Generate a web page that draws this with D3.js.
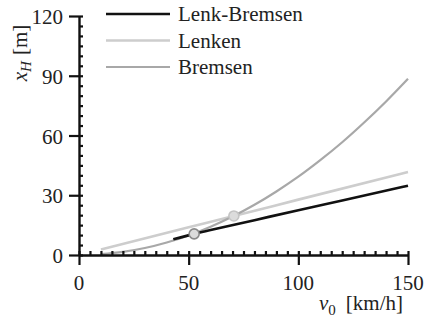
<!DOCTYPE html>
<html>
<head>
<meta charset="utf-8">
<script src="https://cdn.jsdelivr.net/npm/d3@7"></script>
</head>
<body style="margin:0">
<script>
// values
const bremsenV = [10, 20, 30, 40, 50, 60, 70, 80, 90, 100, 110, 120, 130, 140, 150];
const bremsenX = [0.4, 1.6, 3.5, 6.3, 9.8, 14.2, 19.3, 25.2, 31.9, 39.3, 47.6, 56.6, 66.5, 77.1, 88.5];

const lenkenV = [10, 50, 71, 100, 150];
const lenkenX = [2.8, 13.9, 19.7, 27.8, 41.7];

const lenkBremsenV = [43, 52.5, 60, 80, 100, 120, 150];
const lenkBremsenX = [7.9, 10.6, 12.5, 17.5, 22.5, 27.4, 34.8];

const markerV = [52.5, 70.6];
const markerX = [10.6, 19.6];

const xTicks = [0, 50, 100, 150];
const yTicks = [0, 30, 60, 90, 120];

const legendNames = ["Lenk-Bremsen", "Lenken", "Bremsen"];

const config = {
  width: 426,
  height: 322,
  left: 79,
  top: 16,
  right: 408,
  bottom: 255,
};
const serif = "Liberation Serif";

const svg = d3.select("body").append("svg")
  .attr("width", config.width)
  .attr("height", config.height)
  .attr("font-family", serif);

const x = d3.scaleLinear().domain([0, 150]).range([config.left, config.right]);
const y = d3.scaleLinear().domain([0, 120]).range([config.bottom, config.top]);

const series = [
  { name: legendNames[0], v: lenkBremsenV, xh: lenkBremsenX, color: "#111", width: 2.6 },
  { name: legendNames[1], v: lenkenV, xh: lenkenX, color: "#cdcdcd", width: 2.6 },
  { name: legendNames[2], v: bremsenV, xh: bremsenX, color: "#a8a8a8", width: 2.2 },
];

const line = d3.line()
  .x((d) => x(d[0]))
  .y((d) => y(d[1]))
  .curve(d3.curveMonotoneX);

// draw order: lenken, bremsen, lenk-bremsen on top
svg.append("g").selectAll("path")
  .data([series[1], series[2], series[0]])
  .join("path")
  .attr("d", (s) => line(s.v.map((v, i) => [v, s.xh[i]])))
  .attr("fill", "none")
  .attr("stroke", (s) => s.color)
  .attr("stroke-width", (s) => s.width);

// intersection markers
const markerStroke = ["#8a8a8a", "#c4c4c4"];
svg.append("g").selectAll("circle")
  .data(markerV.map((v, i) => [v, markerX[i]]))
  .join("circle")
  .attr("cx", (d) => x(d[0]))
  .attr("cy", (d) => y(d[1]))
  .attr("r", 5)
  .attr("fill", "#dcdcdc")
  .attr("stroke", (d, i) => markerStroke[i])
  .attr("stroke-width", 1.6);

// axes: major ticks outward (unlabelled), minor ticks inward
const y_axis_g = svg.append("g").attr("transform", `translate(${config.left},0)`);
y_axis_g.call(d3.axisLeft(y).tickValues(yTicks).tickSize(10).tickSizeOuter(0).tickFormat(""));
const y_minor_g = svg.append("g").attr("transform", `translate(${config.left},0)`);
y_minor_g.call(d3.axisRight(y).tickValues(d3.range(0, 121, 5)).tickSize(4).tickFormat(""));
y_minor_g.select(".domain").remove();

const x_axis_g = svg.append("g").attr("transform", `translate(0,${config.bottom})`);
x_axis_g.call(d3.axisBottom(x).tickValues(xTicks).tickSize(10).tickSizeOuter(0).tickFormat(""));
const x_minor_g = svg.append("g").attr("transform", `translate(0,${config.bottom})`);
x_minor_g.call(d3.axisTop(x).tickValues(d3.range(0, 151, 5)).tickSize(4).tickFormat(""));
x_minor_g.select(".domain").remove();

svg.selectAll(".domain").attr("stroke", "#111").attr("stroke-width", 2.4);
svg.selectAll(".tick line").attr("stroke", "#111").attr("stroke-width", 2.2);
svg.selectAll(".tick text").remove();

// tick labels placed by the scales
svg.append("g").selectAll("text")
  .data(yTicks)
  .join("text")
  .attr("x", config.left - 16)
  .attr("y", (d) => y(d) + 8)
  .attr("text-anchor", "end")
  .attr("font-size", 21)
  .attr("fill", "#222")
  .attr("font-family", serif)
  .style("font-family", serif)
  .text((d) => d);

svg.append("g").selectAll("text")
  .data(xTicks)
  .join("text")
  .attr("x", (d) => x(d))
  .attr("y", config.bottom + 35)
  .attr("text-anchor", "middle")
  .attr("font-size", 21)
  .attr("fill", "#222")
  .attr("font-family", serif)
  .style("font-family", serif)
  .text((d) => d);

// axis titles
const xt = svg.append("text")
  .attr("x", 403)
  .attr("y", 310)
  .attr("text-anchor", "end")
  .attr("fill", "#222")
  .attr("font-size", 21)
  .attr("font-family", serif)
  .style("font-family", serif);
xt.append("tspan").style("font-style", "italic").text("v");
xt.append("tspan").attr("font-size", 15).attr("dy", 5).text("0");
xt.append("tspan").attr("dy", -5).attr("dx", 10).text("[km/h]");

const yt = svg.append("text")
  .attr("transform", "translate(27,53) rotate(-90)")
  .attr("text-anchor", "middle")
  .attr("fill", "#222")
  .attr("font-size", 21)
  .attr("font-family", serif)
  .style("font-family", serif);
yt.append("tspan").style("font-style", "italic").text("x");
yt.append("tspan").style("font-style", "italic").attr("font-size", 15).attr("dy", 4).text("H");
yt.append("tspan").attr("dy", -4).attr("dx", 6).text("[m]");

// legend
const legendY = [14, 40.5, 67];
const legend_g = svg.append("g");
legend_g.selectAll("line")
  .data(series)
  .join("line")
  .attr("x1", 106).attr("x2", 170)
  .attr("y1", (s, i) => legendY[i]).attr("y2", (s, i) => legendY[i])
  .attr("stroke", (s) => s.color)
  .attr("stroke-width", (s) => s.width);
legend_g.selectAll("text")
  .data(series)
  .join("text")
  .attr("x", 178)
  .attr("y", (s, i) => legendY[i] + 7)
  .attr("fill", "#222")
  .attr("font-size", 21)
  .attr("font-family", serif)
  .style("font-family", serif)
  .text((s) => s.name);
</script>
</body>
</html>
